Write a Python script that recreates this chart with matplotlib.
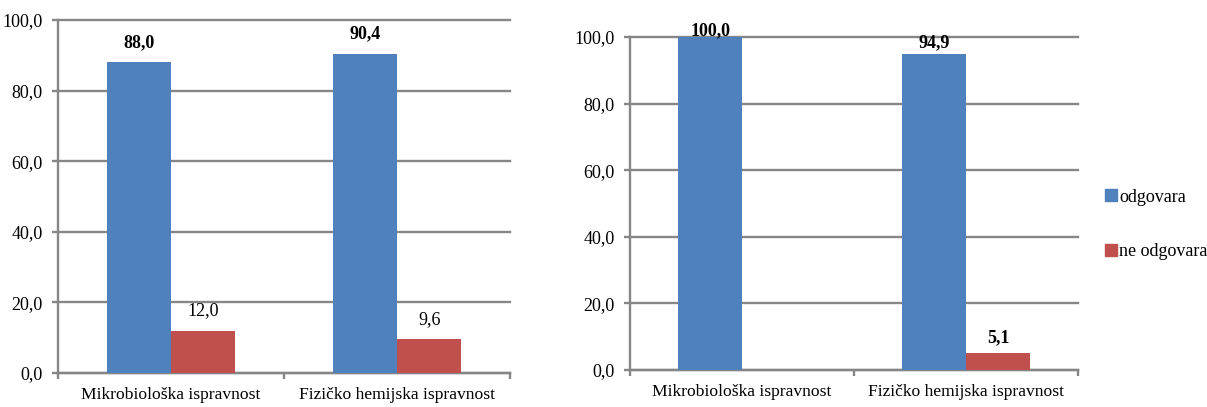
import matplotlib
matplotlib.use("Agg")
import matplotlib.pyplot as plt
import numpy as np
from matplotlib.patches import Patch

categories = ["Mikrobiološka ispravnost", "Fizičko hemijska ispravnost"]
series_names = ["odgovara", "ne odgovara"]

left_odgovara = [88.0, 90.4]
left_ne_odgovara = [12.0, 9.6]
right_odgovara = [100.0, 94.9]
right_ne_odgovara = [0.0, 5.1]

yticks = [0, 20, 40, 60, 80, 100]

BLUE = "#4F81BD"
RED = "#C0504D"
GRID = "#868686"

plt.rcParams["font.family"] = ["Liberation Serif", "DejaVu Serif"]

fig = plt.figure(figsize=(12.07, 4.07), dpi=100)

ax1 = fig.add_axes([58 / 1207, (407 - 373) / 407, 452 / 1207, 353 / 407])
ax2 = fig.add_axes([630 / 1207, (407 - 370) / 407, 448 / 1207, 333 / 407])

fmt = lambda v: f"{v:.1f}".replace(".", ",")


def setup(ax, blue_vals, red_vals, label_offsets, bolds):
    x = np.arange(len(categories))
    w = 0.285
    b1 = ax.bar(x - w / 2, blue_vals, w, color=BLUE, zorder=3)
    b2 = ax.bar(x + w / 2, red_vals, w, color=RED, zorder=3)
    ax.set_xlim(-0.5, len(categories) - 0.5)
    ax.set_ylim(0, 100)
    ax.set_yticks(yticks)
    ax.set_yticklabels([fmt(v) for v in yticks], fontsize=13)
    ax.yaxis.grid(True, color=GRID, linewidth=1.7, zorder=0)
    ax.set_axisbelow(True)
    for gl in ax.get_ygridlines():
        gl.set_clip_on(False)
    ax.set_xticks(np.arange(len(categories) + 1) - 0.5)
    ax.set_xticklabels([])
    ax.set_xticks(x, minor=True)
    ax.set_xticklabels(categories, minor=True, fontsize=12.6)
    ax.tick_params(axis="x", which="minor", length=0, pad=10)
    ax.tick_params(axis="x", which="major", length=4, width=1.7, color=GRID)
    ax.tick_params(axis="y", length=4, width=1.7, color=GRID, pad=7)
    for s in ["top", "right"]:
        ax.spines[s].set_visible(False)
    for s in ["left", "bottom"]:
        ax.spines[s].set_color(GRID)
        ax.spines[s].set_linewidth(1.7)
    bars = list(b1) + list(b2)
    vals = list(blue_vals) + list(red_vals)
    for bar, v, off, bd in zip(bars, vals, label_offsets, bolds):
        if v <= 0:
            continue
        ax.annotate(fmt(v), (bar.get_x() + bar.get_width() / 2, v),
                    xytext=(0, off), textcoords="offset pixels",
                    ha="center", va="center", fontsize=13,
                    fontweight="bold" if bd else "normal", zorder=5,
                    annotation_clip=False)


setup(ax1, left_odgovara, left_ne_odgovara,
      [20, 20, 20, 20], [True, True, False, False])
setup(ax2, right_odgovara, right_ne_odgovara,
      [6, 11, 15, 15], [True, True, True, True])

handles = [Patch(color=BLUE), Patch(color=RED)]
fig.legend(handles, series_names, loc="center left",
           bbox_to_anchor=(1105 / 1207, 1 - 224.5 / 407),
           frameon=False, fontsize=13, handlelength=0.65, handleheight=0.65,
           handletextpad=0.15, labelspacing=2.1, borderpad=0, borderaxespad=0)

fig.savefig("out.png", dpi=100)
